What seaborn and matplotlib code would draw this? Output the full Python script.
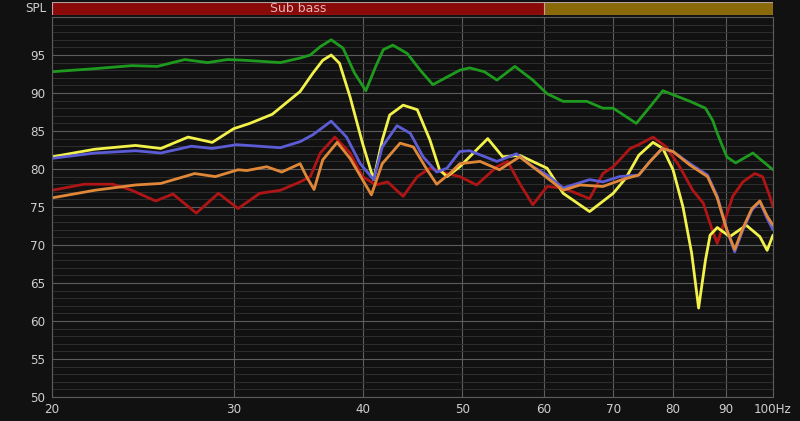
import matplotlib
matplotlib.use("Agg")
import matplotlib.pyplot as plt
import seaborn as sns
import pandas as pd
import numpy as np
from matplotlib.ticker import FixedLocator, NullLocator, MultipleLocator

# ---------------- data ----------------
green_f = [20, 22.0, 23.9, 25.3, 26.9, 28.3, 29.6, 30.8, 33.3, 34.8, 35.6, 36.4, 37.3, 38.3, 39.3,
           40.3, 41.2, 41.9, 42.8, 44.2, 45.5, 46.8, 48.3, 49.7, 50.8, 52.5, 54.0, 56.2, 58.5,
           60.4, 62.6, 66.0, 68.4, 70.0, 73.7, 76.0, 78.2, 83.1, 86.0, 87.4, 88.3, 90.2, 92.0,
           95.6, 100]
green_v = [92.8, 93.2, 93.6, 93.5, 94.4, 94.0, 94.4, 94.3, 94.0, 94.6, 95.0, 96.1, 97.0, 95.9, 92.6,
           90.3, 93.5, 95.7, 96.3, 95.2, 93.0, 91.1, 92.1, 93.0, 93.3, 92.8, 91.7, 93.5, 91.7,
           89.9, 88.9, 88.9, 88.0, 88.0, 86.0, 88.2, 90.3, 88.9, 88.0, 86.4, 84.7, 81.6, 80.8,
           82.1, 79.9]

yellow_f = [20, 22.0, 24.1, 25.5, 27.1, 28.6, 30.0, 31.1, 32.7, 34.8, 35.8, 36.6, 37.3, 38.0, 38.9,
            40.0, 41.0, 41.8, 42.5, 43.8, 45.2, 46.5, 47.5, 48.3, 49.7, 52.9, 54.7, 56.8, 60.4,
            62.6, 66.4, 70.0, 72.0, 74.1, 76.5, 78.2, 80.0, 81.8, 83.4, 84.7, 86.0, 86.9, 88.3,
            90.8, 94.2, 97.1, 98.7, 100]
yellow_v = [81.6, 82.6, 83.1, 82.7, 84.2, 83.5, 85.3, 86.0, 87.2, 90.2, 92.6, 94.3, 95.0, 93.9, 89.5,
            83.4, 78.6, 83.8, 87.1, 88.4, 87.8, 83.8, 79.9, 79.0, 80.3, 84.0, 81.6, 81.8, 80.1,
            76.8, 74.4, 76.8, 78.8, 81.8, 83.5, 82.7, 79.9, 75.0, 68.9, 61.7, 68.0, 71.3, 72.3,
            71.1, 72.6, 71.1, 69.3, 71.3]

red_f = [20, 21.5, 22.9, 23.9, 25.2, 26.2, 27.6, 29.0, 30.3, 31.8, 33.3, 34.8, 35.6, 36.4, 37.6,
         38.9, 40.0, 41.2, 42.3, 43.8, 45.2, 46.5, 48.3, 49.7, 51.6, 54.0, 55.3, 56.8, 58.5,
         60.4, 62.6, 66.4, 68.4, 70.0, 72.7, 74.1, 76.5, 78.8, 81.2, 83.6, 85.6, 87.3, 88.3,
         89.4, 91.4, 93.5, 96.0, 97.7, 99.3, 100]
red_v = [77.2, 78.0, 78.0, 77.2, 75.8, 76.7, 74.2, 76.8, 74.8, 76.8, 77.2, 78.3, 79.0, 82.1, 84.2,
         82.1, 79.0, 77.9, 78.3, 76.4, 79.0, 80.1, 79.4, 79.0, 77.9, 80.3, 81.0, 78.1, 75.3,
         77.7, 77.5, 76.1, 79.4, 80.3, 82.7, 83.2, 84.2, 82.9, 80.3, 77.2, 75.5, 72.0, 70.2,
         72.4, 76.4, 78.3, 79.4, 79.0, 76.4, 75.0]

blue_f = [20, 22.0, 24.1, 25.5, 27.3, 28.6, 30.2, 33.3, 34.8, 35.8, 37.3, 38.6, 39.8, 41.0, 41.8,
          43.2, 44.5, 45.8, 47.2, 48.3, 49.7, 50.8, 54.0, 56.4, 58.5, 60.4, 62.6, 66.4, 68.4,
          71.0, 74.1, 76.0, 78.1, 80.0, 83.1, 86.4, 88.3, 90.2, 91.8, 93.5, 95.4, 97.1, 98.7, 100]
blue_v = [81.4, 82.1, 82.4, 82.1, 83.0, 82.7, 83.2, 82.8, 83.6, 84.5, 86.3, 84.2, 80.7, 78.6, 82.9,
          85.7, 84.7, 81.6, 79.6, 80.1, 82.3, 82.4, 81.0, 82.0, 80.3, 79.2, 77.5, 78.6, 78.3,
          79.0, 79.2, 81.0, 82.7, 82.3, 80.7, 79.2, 76.4, 72.0, 69.1, 72.0, 74.6, 75.7, 73.5, 72.0]

orange_f = [20, 22.0, 24.1, 25.5, 27.5, 28.8, 30.3, 30.9, 32.3, 33.4, 34.8, 35.3, 35.9, 36.6, 37.8,
            38.9, 40.0, 40.8, 41.8, 43.5, 44.8, 46.2, 47.2, 48.6, 49.7, 52.0, 54.3, 56.8, 59.0,
            62.6, 65.0, 68.4, 71.4, 74.1, 76.0, 78.1, 80.0, 83.1, 86.4, 88.3, 90.2, 91.8, 93.5,
            95.4, 97.1, 98.7, 100]
orange_v = [76.2, 77.2, 77.9, 78.1, 79.4, 79.0, 79.9, 79.8, 80.3, 79.6, 80.7, 79.0, 77.3, 81.2, 83.5,
            81.4, 78.6, 76.6, 80.7, 83.4, 82.9, 79.9, 78.0, 79.4, 80.7, 81.0, 79.9, 81.6, 79.9,
            77.2, 77.9, 77.7, 78.6, 79.2, 81.0, 82.7, 82.3, 80.5, 79.0, 76.2, 72.0, 69.4, 72.2,
            74.8, 75.8, 73.8, 72.6]

series_names = ["green", "red", "yellow", "blue", "orange"]
series_colors = ["#1e9a1e", "#b01515", "#f2f24a", "#5c5cd6", "#e08838"]

x_ticks = [20, 30, 40, 50, 60, 70, 80, 90, 100]
x_tick_labels = ["20", "30", "40", "50", "60", "70", "80", "90", "100Hz"]
y_ticks = [50, 55, 60, 65, 70, 75, 80, 85, 90, 95]

band_edges = [20, 60, 100]
band_labels = ["Sub bass", ""]
band_colors = ["#8a0a0a", "#8a690a"]

# ---------------- build frame ----------------
frames = []
for name, f, v in [("green", green_f, green_v), ("red", red_f, red_v),
                   ("yellow", yellow_f, yellow_v), ("blue", blue_f, blue_v),
                   ("orange", orange_f, orange_v)]:
    frames.append(pd.DataFrame({"freq": f, "spl": v, "series": name}))
df = pd.concat(frames, ignore_index=True)

# ---------------- figure ----------------
sns.set_style("dark")
bg = "#111111"
txt = "#cfcfcf"
plt.rcParams["font.family"] = ["DejaVu Sans"]

fig = plt.figure(figsize=(8.0, 4.21), dpi=100, facecolor=bg)
ax = fig.add_axes([52 / 800, 24 / 421, 721 / 800, 380 / 421])
ax.set_facecolor(bg)

ax.set_xscale("log")
ax.set_xlim(20, 100)
ax.set_ylim(50, 100)

# grid
ax.yaxis.set_major_locator(FixedLocator(y_ticks))
ax.yaxis.set_minor_locator(MultipleLocator(1))
ax.xaxis.set_major_locator(FixedLocator(x_ticks))
ax.xaxis.set_minor_locator(NullLocator())
ax.grid(True, which="major", axis="both", color="#5c5c5c", lw=0.8)
ax.grid(True, which="minor", axis="y", color="#2e2e2e", lw=0.7)
ax.set_axisbelow(True)

sns.lineplot(data=df, x="freq", y="spl", hue="series", hue_order=series_names,
             palette=dict(zip(series_names, series_colors)), estimator=None, sort=False,
             legend=False, lw=2.0, ax=ax, solid_joinstyle="round", solid_capstyle="round")

ax.set_xticks(x_ticks)
ax.set_xticklabels(x_tick_labels)
ax.set_xlabel("")
ax.set_ylabel("")
ax.tick_params(axis="both", which="both", length=0, colors=txt, labelsize=9.5)
ax.tick_params(axis="x", pad=4)
ax.tick_params(axis="y", pad=5)
for lab in ax.get_xticklabels() + ax.get_yticklabels():
    lab.set_fontstretch("condensed")
for s in ax.spines.values():
    s.set_color("#5c5c5c")
    s.set_linewidth(0.8)

# band
bax = fig.add_axes([52 / 800, (421 - 15) / 421, 721 / 800, 13 / 421])
bax.set_xscale("log")
bax.set_xlim(20, 100)
bax.set_ylim(0, 1)
for i in range(len(band_colors)):
    bax.axvspan(band_edges[i], band_edges[i + 1], color=band_colors[i], lw=0)
    bax.axvline(band_edges[i + 1], color="#c9a0a0", lw=0.8)
    if band_labels[i]:
        bax.text(np.sqrt(band_edges[i] * band_edges[i + 1]), 0.5, band_labels[i],
                 ha="center", va="center", color="#e6b4b4", fontsize=9)
bax.axis("off")
bax.axvline(20, color="#c9a0a0", lw=0.8)
bax.axhline(1, color="#b0a0a0", lw=0.8)
bax.axhline(0, color="#b0a0a0", lw=0.8)

fig.text(46 / 800, 1 - 8 / 421, "SPL", ha="right", va="center", color=txt, fontsize=9.5,
         fontstretch="condensed")

fig.savefig("out.png", dpi=100, facecolor=bg)
